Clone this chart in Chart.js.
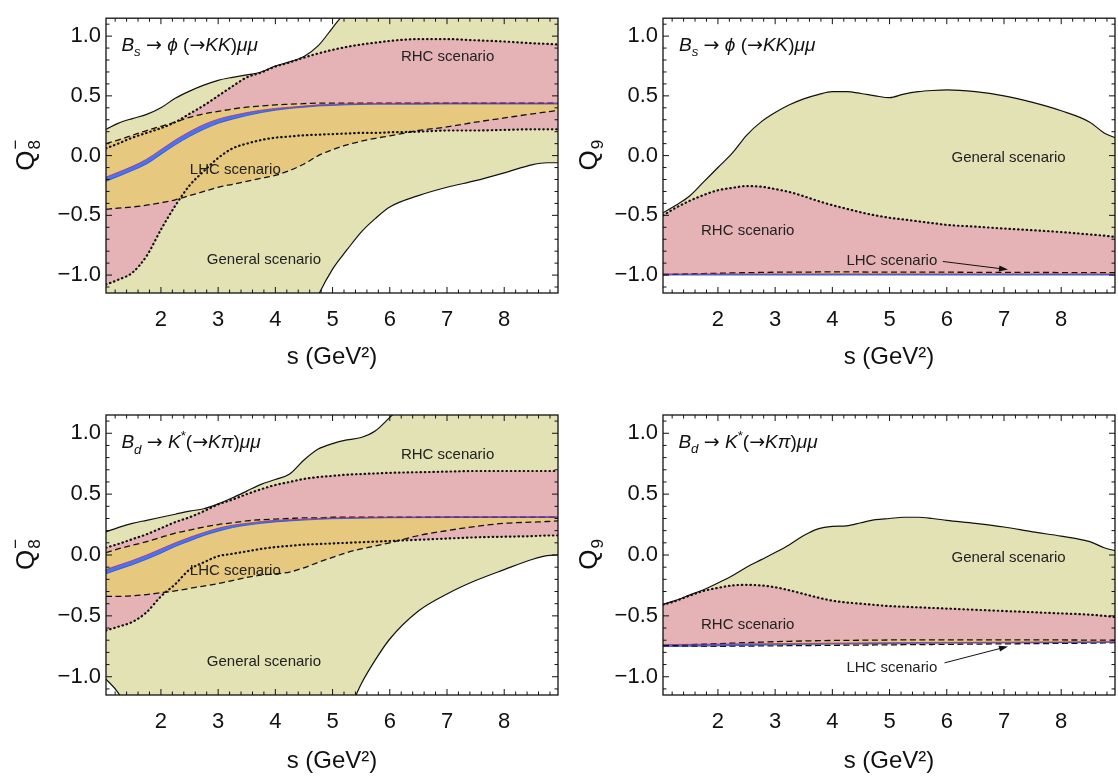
<!DOCTYPE html>
<html lang="en">
<head>
<meta charset="utf-8">
<title>Q8 / Q9 scenarios</title>
<script src="https://cdn.jsdelivr.net/npm/chart.js@4.4.1/dist/chart.umd.min.js"></script>
<style>
  html, body { margin: 0; padding: 0; background: #fff; }
  #page { position: relative; width: 1118px; height: 778px; overflow: hidden; }
  #page canvas { position: absolute; }
</style>
</head>
<body>
<div id="page">
  <canvas id="panel-tl"></canvas>
  <canvas id="panel-tr"></canvas>
  <canvas id="panel-bl"></canvas>
  <canvas id="panel-br"></canvas>
</div>
<script>
const sGrid = [1.04, 1.25, 1.5, 1.75, 2, 2.25, 2.5, 2.75, 3, 3.25, 3.5, 3.75, 4, 4.25, 4.5, 4.75, 5, 5.25, 5.5, 5.75, 6, 6.5, 7, 7.5, 8, 8.5, 8.75, 8.94];
const xTickValues = [2, 3, 4, 5, 6, 7, 8];
const yTickValues = [-1, -0.5, 0, 0.5, 1];

// Q8-, Bs -> phi(->KK) mu mu
const q8BsGenHi = [0.22, 0.27, 0.31, 0.345, 0.40, 0.48, 0.54, 0.59, 0.63, 0.655, 0.675, 0.70, 0.75, 0.785, 0.83, 0.92, 1.07, 1.22, 1.36, 1.48, 1.58, 1.7, 1.75, 1.78, 1.8, 1.8, 1.8, 1.8];
const q8BsGenLo = [-1.6, -1.6, -1.6, -1.6, -1.6, -1.6, -1.6, -1.6, -1.6, -1.6, -1.6, -1.6, -1.6, -1.6, -1.45, -1.17, -0.95, -0.79, -0.64, -0.525, -0.43, -0.335, -0.265, -0.21, -0.145, -0.075, -0.06, -0.06];
const q8BsRhcHi = [0.06, 0.10, 0.15, 0.19, 0.23, 0.28, 0.35, 0.42, 0.50, 0.58, 0.655, 0.695, 0.745, 0.78, 0.82, 0.855, 0.885, 0.91, 0.93, 0.945, 0.96, 0.975, 0.975, 0.965, 0.955, 0.94, 0.935, 0.93];
const q8BsRhcLo = [-1.08, -1.04, -0.98, -0.84, -0.62, -0.42, -0.25, -0.13, -0.02, 0.06, 0.10, 0.13, 0.15, 0.16, 0.17, 0.175, 0.18, 0.185, 0.19, 0.19, 0.195, 0.20, 0.21, 0.21, 0.215, 0.22, 0.22, 0.22];
const q8BsLhcHi = [0.10, 0.13, 0.17, 0.21, 0.245, 0.28, 0.32, 0.35, 0.37, 0.39, 0.405, 0.415, 0.425, 0.43, 0.435, 0.44, 0.44, 0.44, 0.44, 0.44, 0.44, 0.44, 0.44, 0.44, 0.44, 0.44, 0.44, 0.44];
const q8BsLhcLo = [-0.45, -0.44, -0.43, -0.415, -0.395, -0.37, -0.335, -0.30, -0.265, -0.24, -0.215, -0.19, -0.165, -0.125, -0.07, 0.0, 0.05, 0.09, 0.12, 0.145, 0.165, 0.21, 0.24, 0.28, 0.315, 0.35, 0.365, 0.38];
const q8BsSmHi = [-0.18, -0.14, -0.09, -0.03, 0.05, 0.13, 0.20, 0.26, 0.305, 0.335, 0.36, 0.38, 0.395, 0.405, 0.415, 0.425, 0.43, 0.433, 0.435, 0.436, 0.437, 0.438, 0.44, 0.44, 0.44, 0.44, 0.44, 0.44];
const q8BsSmLo = [-0.215, -0.175, -0.125, -0.07, 0.01, 0.09, 0.16, 0.22, 0.27, 0.305, 0.335, 0.36, 0.38, 0.395, 0.405, 0.415, 0.42, 0.425, 0.428, 0.43, 0.43, 0.43, 0.432, 0.432, 0.432, 0.432, 0.432, 0.432];

// Q9, Bs -> phi(->KK) mu mu
const q9BsGenHi = [-0.48, -0.42, -0.34, -0.22, -0.10, 0.02, 0.17, 0.28, 0.36, 0.425, 0.475, 0.51, 0.535, 0.535, 0.52, 0.50, 0.485, 0.515, 0.535, 0.545, 0.55, 0.535, 0.50, 0.445, 0.375, 0.28, 0.19, 0.15];
const q9BsGenLo = [-1.0, -1.0, -1.0, -1.0, -1.0, -1.0, -1.0, -1.0, -1.0, -1.0, -1.0, -1.0, -1.0, -1.0, -1.0, -1.0, -1.0, -1.0, -1.0, -1.0, -1.0, -1.0, -1.0, -1.0, -1.0, -1.0, -1.0, -1.0];
const q9BsRhcHi = [-0.50, -0.44, -0.38, -0.33, -0.29, -0.27, -0.255, -0.26, -0.28, -0.305, -0.34, -0.38, -0.415, -0.445, -0.475, -0.50, -0.52, -0.535, -0.55, -0.565, -0.58, -0.595, -0.61, -0.625, -0.64, -0.66, -0.67, -0.68];
const q9BsRhcLo = [-0.995, -0.995, -0.995, -0.995, -0.995, -0.995, -0.995, -0.995, -0.995, -0.995, -0.995, -0.995, -0.995, -0.995, -0.995, -0.995, -0.995, -0.995, -0.995, -0.995, -0.995, -0.995, -0.995, -0.995, -0.995, -0.995, -0.995, -0.995];
const q9BsLhcHi = [-0.995, -0.993, -0.99, -0.987, -0.985, -0.982, -0.98, -0.978, -0.976, -0.975, -0.975, -0.974, -0.974, -0.974, -0.974, -0.975, -0.975, -0.975, -0.975, -0.976, -0.976, -0.977, -0.978, -0.978, -0.979, -0.98, -0.98, -0.98];
const q9BsLhcLo = [-0.999, -0.999, -0.999, -0.999, -0.999, -0.999, -0.999, -0.999, -0.999, -0.999, -0.999, -0.999, -0.999, -0.999, -0.999, -0.999, -0.999, -0.999, -0.999, -0.999, -0.999, -0.999, -0.999, -0.999, -0.999, -0.999, -0.999, -0.999];
const q9BsSmHi = [-0.99, -0.99, -0.99, -0.99, -0.99, -0.99, -0.99, -0.99, -0.99, -0.99, -0.99, -0.99, -0.99, -0.99, -0.99, -0.99, -0.99, -0.99, -0.99, -0.99, -0.99, -0.99, -0.99, -0.99, -0.99, -0.99, -0.99, -0.99];
const q9BsSmLo = [-1.0, -1.0, -1.0, -1.0, -1.0, -1.0, -1.0, -1.0, -1.0, -1.0, -1.0, -1.0, -1.0, -1.0, -1.0, -1.0, -1.0, -1.0, -1.0, -1.0, -1.0, -1.0, -1.0, -1.0, -1.0, -1.0, -1.0, -1.0];

// Q8-, Bd -> K*(->K pi) mu mu
const q8BdGenHi = [0.19, 0.225, 0.26, 0.285, 0.31, 0.335, 0.36, 0.38, 0.42, 0.47, 0.525, 0.58, 0.62, 0.665, 0.78, 0.87, 0.915, 0.945, 0.965, 1.02, 1.13, 1.35, 1.5, 1.6, 1.6, 1.6, 1.6, 1.6];
const q8BdGenLo = [-1.02, -1.13, -1.35, -1.6, -1.6, -1.6, -1.6, -1.6, -1.6, -1.6, -1.6, -1.6, -1.6, -1.6, -1.6, -1.6, -1.55, -1.32, -1.06, -0.86, -0.69, -0.46, -0.32, -0.21, -0.12, -0.035, -0.005, 0.0];
const q8BdRhcHi = [0.06, 0.09, 0.13, 0.17, 0.22, 0.27, 0.31, 0.36, 0.415, 0.455, 0.50, 0.54, 0.575, 0.60, 0.625, 0.64, 0.65, 0.66, 0.665, 0.67, 0.675, 0.68, 0.685, 0.69, 0.69, 0.69, 0.69, 0.69];
const q8BdRhcLo = [-0.62, -0.59, -0.55, -0.47, -0.34, -0.24, -0.12, -0.06, -0.01, 0.01, 0.03, 0.05, 0.065, 0.075, 0.085, 0.09, 0.095, 0.10, 0.105, 0.11, 0.115, 0.125, 0.135, 0.145, 0.15, 0.155, 0.16, 0.16];
const q8BdLhcHi = [0.02, 0.05, 0.08, 0.11, 0.145, 0.18, 0.205, 0.23, 0.25, 0.265, 0.28, 0.29, 0.295, 0.30, 0.305, 0.305, 0.31, 0.31, 0.31, 0.31, 0.31, 0.31, 0.31, 0.31, 0.31, 0.31, 0.31, 0.31];
const q8BdLhcLo = [-0.34, -0.34, -0.335, -0.325, -0.31, -0.295, -0.275, -0.255, -0.235, -0.21, -0.185, -0.165, -0.155, -0.14, -0.105, -0.06, -0.02, 0.02, 0.05, 0.075, 0.10, 0.16, 0.20, 0.235, 0.26, 0.27, 0.275, 0.28];
const q8BdSmHi = [-0.12, -0.085, -0.045, 0.0, 0.05, 0.10, 0.145, 0.185, 0.22, 0.245, 0.26, 0.275, 0.285, 0.29, 0.295, 0.30, 0.305, 0.307, 0.309, 0.31, 0.312, 0.313, 0.315, 0.315, 0.315, 0.315, 0.315, 0.315];
const q8BdSmLo = [-0.155, -0.12, -0.08, -0.035, 0.015, 0.07, 0.115, 0.16, 0.195, 0.225, 0.245, 0.26, 0.272, 0.28, 0.287, 0.293, 0.298, 0.30, 0.302, 0.304, 0.306, 0.307, 0.308, 0.308, 0.308, 0.308, 0.308, 0.308];

// Q9, Bd -> K*(->K pi) mu mu
const q9BdGenHi = [-0.405, -0.375, -0.33, -0.285, -0.23, -0.17, -0.10, -0.04, 0.02, 0.085, 0.16, 0.215, 0.235, 0.24, 0.265, 0.29, 0.30, 0.31, 0.31, 0.30, 0.285, 0.26, 0.23, 0.19, 0.155, 0.11, 0.06, 0.035];
const q9BdGenLo = [-0.745, -0.745, -0.745, -0.744, -0.742, -0.74, -0.738, -0.735, -0.733, -0.731, -0.73, -0.728, -0.727, -0.726, -0.725, -0.724, -0.723, -0.722, -0.721, -0.72, -0.72, -0.719, -0.718, -0.717, -0.716, -0.716, -0.715, -0.715];
const q9BdRhcHi = [-0.41, -0.38, -0.335, -0.295, -0.27, -0.25, -0.245, -0.25, -0.265, -0.29, -0.32, -0.35, -0.375, -0.39, -0.40, -0.41, -0.42, -0.425, -0.43, -0.435, -0.44, -0.45, -0.46, -0.47, -0.48, -0.49, -0.50, -0.51];
const q9BdRhcLo = [-0.745, -0.745, -0.745, -0.744, -0.742, -0.74, -0.738, -0.735, -0.733, -0.731, -0.73, -0.728, -0.727, -0.726, -0.725, -0.724, -0.723, -0.722, -0.721, -0.72, -0.72, -0.719, -0.718, -0.717, -0.716, -0.716, -0.715, -0.715];
const q9BdLhcHi = [-0.745, -0.742, -0.738, -0.733, -0.728, -0.724, -0.72, -0.716, -0.712, -0.709, -0.706, -0.704, -0.702, -0.701, -0.70, -0.699, -0.698, -0.698, -0.697, -0.697, -0.697, -0.697, -0.697, -0.698, -0.698, -0.699, -0.70, -0.70];
const q9BdLhcLo = [-0.75, -0.75, -0.75, -0.75, -0.75, -0.749, -0.748, -0.747, -0.746, -0.745, -0.744, -0.743, -0.742, -0.741, -0.74, -0.739, -0.738, -0.737, -0.736, -0.735, -0.734, -0.732, -0.73, -0.728, -0.726, -0.724, -0.722, -0.72];
const q9BdSmHi = [-0.735, -0.735, -0.734, -0.733, -0.732, -0.731, -0.73, -0.729, -0.728, -0.727, -0.726, -0.725, -0.724, -0.723, -0.722, -0.721, -0.72, -0.72, -0.719, -0.718, -0.718, -0.717, -0.716, -0.715, -0.714, -0.713, -0.712, -0.712];
const q9BdSmLo = [-0.752, -0.751, -0.75, -0.748, -0.746, -0.744, -0.742, -0.74, -0.738, -0.736, -0.734, -0.733, -0.731, -0.73, -0.729, -0.728, -0.727, -0.726, -0.725, -0.724, -0.723, -0.722, -0.721, -0.72, -0.719, -0.718, -0.717, -0.717];

const S_MIN = 1.04;
const S_MAX = 8.94;
const Y_MIN = -1.15;
const Y_MAX = 1.15;

const FONT = "'Liberation Sans', Arial, Helvetica, sans-serif";
const ARROW_FONT = "'DejaVu Sans', sans-serif";
const FILLS = { general: '#e3e2b4', rhc: '#e5b3b6', lhc: '#e6c87e', sm: '#4b72ef' };
const LINES = {
    solid: { borderColor: '#111', borderWidth: 1.2 },
    dotted: { borderColor: '#111', borderWidth: 2.2, borderDash: [0.5, 3.8], borderCapStyle: 'round' },
    dashed: { borderColor: '#111', borderWidth: 1.3, borderDash: [6, 3.5] },
    none: { borderColor: 'rgba(0,0,0,0)', borderWidth: 1 },
    smTop: { borderColor: '#b0307a', borderWidth: 0.8 },
    smBottom: { borderColor: '#2a4fd0', borderWidth: 0.8 },
};

const FORMULA_BS = [
    { t: 'B', it: true }, { t: 's', it: true, sub: true }, { t: ' ' }, { t: '\u2192', arrow: true }, { t: ' ' },
    { t: '\u03d5', it: true }, { t: ' (' }, { t: '\u2192', arrow: true }, { t: 'KK', it: true }, { t: ')' },
    { t: '\u03bc\u03bc', it: true },
];
const FORMULA_BD = [
    { t: 'B', it: true }, { t: 'd', it: true, sub: true }, { t: ' ' }, { t: '\u2192', arrow: true }, { t: ' ' },
    { t: 'K', it: true }, { t: '*', sup: true }, { t: '(' }, { t: '\u2192', arrow: true }, { t: 'K\u03c0', it: true },
    { t: ')' }, { t: '\u03bc\u03bc', it: true },
];

const panels = [
    {
        id: 'panel-tl', left: 0, top: 0, width: 560, height: 389,
        yAxisWidth: 106, padTop: 12, padRight: 2, xAxisHeight: 96, titlePad: 17,
        yTitleX: 25, qSub: '8', qSup: '\u2212', formula: FORMULA_BS, formulaAt: [1.31, 0.875],
        bands: [
            [q8BsGenHi, q8BsGenLo, 'general', 'solid', 'solid'],
            [q8BsRhcHi, q8BsRhcLo, 'rhc', 'dotted', 'dotted'],
            [q8BsLhcHi, q8BsLhcLo, 'lhc', 'dashed', 'dashed'],
            [q8BsSmHi, q8BsSmLo, 'sm', 'smTop', 'smBottom'],
        ],
        labels: [
            { text: 'RHC scenario', x: 7.01, y: 0.83 },
            { text: 'LHC scenario', x: 3.30, y: -0.12 },
            { text: 'General scenario', x: 3.80, y: -0.875 },
        ],
        arrow: null,
    },
    {
        id: 'panel-tr', left: 560, top: 0, width: 558, height: 389,
        yAxisWidth: 103, padTop: 12, padRight: 3, xAxisHeight: 96, titlePad: 17,
        yTitleX: 28, qSub: '9', qSup: '', formula: FORMULA_BS, formulaAt: [1.32, 0.875],
        bands: [
            [q9BsGenHi, q9BsGenLo, 'general', 'solid', 'none'],
            [q9BsRhcHi, q9BsRhcLo, 'rhc', 'dotted', 'none'],
            [q9BsLhcHi, q9BsLhcLo, 'lhc', 'dashed', 'none'],
            [q9BsSmHi, q9BsSmLo, 'sm', 'smTop', 'smBottom'],
        ],
        labels: [
            { text: 'General scenario', x: 7.08, y: -0.02 },
            { text: 'RHC scenario', x: 2.52, y: -0.63 },
            { text: 'LHC scenario', x: 5.04, y: -0.877 },
        ],
        arrow: { from: [5.93, -0.886], to: [7.07, -0.954] },
    },
    {
        id: 'panel-bl', left: 0, top: 389, width: 560, height: 389,
        yAxisWidth: 106, padTop: 26, padRight: 2, xAxisHeight: 83, titlePad: 2,
        yTitleX: 25, qSub: '8', qSup: '\u2212', formula: FORMULA_BD, formulaAt: [1.31, 0.875],
        bands: [
            [q8BdGenHi, q8BdGenLo, 'general', 'solid', 'solid'],
            [q8BdRhcHi, q8BdRhcLo, 'rhc', 'dotted', 'dotted'],
            [q8BdLhcHi, q8BdLhcLo, 'lhc', 'dashed', 'dashed'],
            [q8BdSmHi, q8BdSmLo, 'sm', 'smTop', 'smBottom'],
        ],
        labels: [
            { text: 'RHC scenario', x: 7.01, y: 0.823 },
            { text: 'LHC scenario', x: 3.30, y: -0.13 },
            { text: 'General scenario', x: 3.80, y: -0.875 },
        ],
        arrow: null,
    },
    {
        id: 'panel-br', left: 560, top: 389, width: 558, height: 389,
        yAxisWidth: 103, padTop: 26, padRight: 3, xAxisHeight: 83, titlePad: 2,
        yTitleX: 28, qSub: '9', qSup: '', formula: FORMULA_BD, formulaAt: [1.31, 0.88],
        bands: [
            [q9BdGenHi, q9BdGenLo, 'general', 'solid', 'none'],
            [q9BdRhcHi, q9BdRhcLo, 'rhc', 'dotted', 'none'],
            [q9BdLhcHi, q9BdLhcLo, 'lhc', 'dashed', 'dashed'],
            [q9BdSmHi, q9BdSmLo, 'sm', 'smTop', 'smBottom'],
        ],
        labels: [
            { text: 'General scenario', x: 7.08, y: -0.022 },
            { text: 'RHC scenario', x: 2.52, y: -0.576 },
            { text: 'LHC scenario', x: 5.04, y: -0.924 },
        ],
        arrow: { from: [5.96, -0.886], to: [7.07, -0.751] },
    },
];

function points(values) {
    return sGrid.map((s, i) => ({ x: s, y: values[i] }));
}

// Builds the upper/lower pair for every band; the upper one fills down to the lower one
function buildDatasets(bands) {
    const datasets = [];
    bands.forEach(([hi, lo, fill, hiStyle, loStyle], i) => {
        const order = bands.length - i;
        const loIndex = datasets.length + 1;
        datasets.push({ data: points(hi), fill: { target: loIndex }, backgroundColor: FILLS[fill], order, ...LINES[hiStyle] });
        datasets.push({ data: points(lo), fill: false, order, ...LINES[loStyle] });
    });
    return datasets;
}

function drawRich(ctx, x, y, parts, size) {
    ctx.textAlign = 'left';
    ctx.textBaseline = 'alphabetic';
    for (const p of parts) {
        const small = p.sub || p.sup;
        const fs = small ? size * 0.7 : size;
        const family = p.arrow ? ARROW_FONT : FONT;
        ctx.font = `${p.it ? 'italic ' : ''}${fs}px ${family}`;
        const dy = p.sub ? size * 0.28 : p.sup ? -size * 0.42 : 0;
        ctx.fillText(p.t, x, y + dy);
        x += ctx.measureText(p.t).width;
    }
}

function drawAxisQ(ctx, cx, cy, sub, sup) {
    ctx.save();
    ctx.translate(cx, cy);
    ctx.rotate(-Math.PI / 2);
    ctx.fillStyle = '#111';
    ctx.textAlign = 'left';
    ctx.textBaseline = 'alphabetic';
    ctx.font = `26px ${FONT}`;
    const wq = ctx.measureText('Q').width;
    ctx.font = `17px ${FONT}`;
    const ws = Math.max(ctx.measureText(sub).width, sup ? ctx.measureText(sup).width : 0);
    const x0 = -(wq + ws) / 2;
    ctx.font = `26px ${FONT}`;
    ctx.fillText('Q', x0, 9);
    ctx.font = `17px ${FONT}`;
    ctx.fillText(sub, x0 + wq + 1, 15);
    if (sup) {
        ctx.fillText(sup, x0 + wq + 1, -4);
    }
    ctx.restore();
}

const decorations = {
    id: 'decorations',
    beforeDatasetsDraw(chart, args, opts) {
        // scenario names sit on top of the fills, under the boundary lines
        const { ctx, scales: { x, y } } = chart;
        ctx.save();
        ctx.fillStyle = '#222';
        ctx.font = `15px ${FONT}`;
        ctx.textAlign = 'center';
        ctx.textBaseline = 'middle';
        for (const lab of opts.labels) {
            ctx.fillText(lab.text, x.getPixelForValue(lab.x), y.getPixelForValue(lab.y));
        }
        ctx.restore();
    },
    afterDraw(chart, args, opts) {
        const { ctx, chartArea, scales: { x, y } } = chart;
        const { left, right, top, bottom } = chartArea;
        ctx.save();

        // frame with inward ticks on all four sides
        ctx.strokeStyle = '#111';
        ctx.lineWidth = 1.3;
        ctx.strokeRect(left, top, right - left, bottom - top);
        ctx.lineWidth = 1;
        ctx.beginPath();
        for (let k = Math.ceil(x.min * 5); k <= Math.floor(x.max * 5); k++) {
            const px = x.getPixelForValue(k / 5);
            const len = k % 5 === 0 ? 6 : 3.5;
            ctx.moveTo(px, bottom);
            ctx.lineTo(px, bottom - len);
            ctx.moveTo(px, top);
            ctx.lineTo(px, top + len);
        }
        for (let k = Math.ceil(y.min * 10); k <= Math.floor(y.max * 10); k++) {
            const py = y.getPixelForValue(k / 10);
            const len = k % 5 === 0 ? 6 : 3.5;
            ctx.moveTo(left, py);
            ctx.lineTo(left + len, py);
            ctx.moveTo(right, py);
            ctx.lineTo(right - len, py);
        }
        ctx.stroke();

        // annotation arrow
        if (opts.arrow) {
            const x1 = x.getPixelForValue(opts.arrow.from[0]);
            const y1 = y.getPixelForValue(opts.arrow.from[1]);
            const x2 = x.getPixelForValue(opts.arrow.to[0]);
            const y2 = y.getPixelForValue(opts.arrow.to[1]);
            const ang = Math.atan2(y2 - y1, x2 - x1);
            ctx.beginPath();
            ctx.moveTo(x1, y1);
            ctx.lineTo(x2 - 7 * Math.cos(ang), y2 - 7 * Math.sin(ang));
            ctx.stroke();
            ctx.fillStyle = '#111';
            ctx.beginPath();
            ctx.moveTo(x2, y2);
            ctx.lineTo(x2 - 9 * Math.cos(ang) + 3 * Math.sin(ang), y2 - 9 * Math.sin(ang) - 3 * Math.cos(ang));
            ctx.lineTo(x2 - 9 * Math.cos(ang) - 3 * Math.sin(ang), y2 - 9 * Math.sin(ang) + 3 * Math.cos(ang));
            ctx.closePath();
            ctx.fill();
        }

        // decay channel
        ctx.fillStyle = '#111';
        drawRich(ctx, x.getPixelForValue(opts.formulaAt[0]), y.getPixelForValue(opts.formulaAt[1]), opts.formula, 19);

        // y axis title
        drawAxisQ(ctx, opts.yTitleX, (top + bottom) / 2, opts.qSub, opts.qSup);
        ctx.restore();
    }
};

Chart.defaults.font.family = FONT;
Chart.defaults.color = '#111';

panels.forEach(p => {
    const canvas = document.getElementById(p.id);
    canvas.width = p.width;
    canvas.height = p.height;
    canvas.style.left = p.left + 'px';
    canvas.style.top = p.top + 'px';

    new Chart(canvas.getContext('2d'), {
        type: 'line',
        data: { datasets: buildDatasets(p.bands) },
        options: {
            responsive: false,
            maintainAspectRatio: false,
            devicePixelRatio: 1,
            animation: false,
            events: [],
            layout: { padding: { left: 0, top: p.padTop, right: p.padRight, bottom: 0 } },
            elements: {
                point: { radius: 0 },
                line: { cubicInterpolationMode: 'monotone' },
            },
            scales: {
                x: {
                    type: 'linear',
                    min: S_MIN,
                    max: S_MAX,
                    grid: { display: false, drawTicks: false },
                    border: { display: false },
                    afterBuildTicks: scale => { scale.ticks = xTickValues.map(v => ({ value: v })); },
                    afterFit: scale => { scale.height = p.xAxisHeight; },
                    ticks: {
                        padding: 14, autoSkip: false, maxRotation: 0, color: '#111',
                        font: { size: 22 },
                        callback: v => String(v),
                    },
                    title: {
                        display: true, text: 's (GeV\u00b2)', color: '#111',
                        font: { size: 24 }, padding: { top: 0, bottom: p.titlePad },
                    },
                },
                y: {
                    type: 'linear',
                    min: Y_MIN,
                    max: Y_MAX,
                    grid: { display: false, drawTicks: false },
                    border: { display: false },
                    afterBuildTicks: scale => { scale.ticks = yTickValues.map(v => ({ value: v })); },
                    afterFit: scale => { scale.width = p.yAxisWidth; },
                    ticks: {
                        padding: 5, autoSkip: false, color: '#111',
                        font: { size: 22 },
                        callback: v => (v < 0 ? '\u2212' : '') + Math.abs(v).toFixed(1),
                    },
                },
            },
            plugins: {
                legend: { display: false },
                tooltip: { enabled: false },
                filler: { drawTime: 'beforeDatasetsDraw' },
                decorations: {
                    labels: p.labels, arrow: p.arrow, formula: p.formula, formulaAt: p.formulaAt,
                    yTitleX: p.yTitleX, qSub: p.qSub, qSup: p.qSup,
                },
            },
        },
        plugins: [decorations],
    });
});
</script>
</body>
</html>
